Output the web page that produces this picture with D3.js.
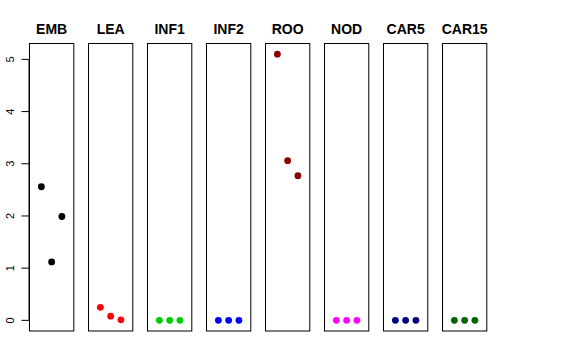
<!DOCTYPE html>
<html>
<head>
<meta charset="utf-8">
<script src="https://cdn.jsdelivr.net/npm/d3@7"></script>
<style>
  body { margin: 0; background: white; }
  text { font-family: "Liberation Sans", Arial, sans-serif; }
</style>
</head>
<body>
<script>
// panel names and colours
var tissues = ['EMB', 'LEA', 'INF1', 'INF2', 'ROO', 'NOD', 'CAR5', 'CAR15'];
var colors = ['#000000', '#ff0000', '#00cd00', '#0000ff', '#8b0000', '#ff00ff', '#000080', '#006400'];
// three replicate values per panel
var values = [
  [2.56, 1.12, 1.99],
  [0.25, 0.08, 0.01],
  [0, 0, 0],
  [0, 0, 0],
  [5.10, 3.06, 2.77],
  [0, 0, 0],
  [0, 0, 0],
  [0, 0, 0]
];
var yTicks = [0, 1, 2, 3, 4, 5];

var width = 576, height = 360;
var panelLeft = 29.5, panelStep = 59, panelW = 44.3;
var plotTop = 43.5, plotBottom = 331;

var svg = d3.select('body').append('svg')
    .attr('width', width)
    .attr('height', height);

// y: data range 0..max padded 4% like R
var yMax = d3.max(values, d => d3.max(d));
var pad = yMax * 0.04;
var y = d3.scaleLinear()
    .domain([-pad, yMax + pad])
    .range([plotBottom, plotTop]);

// x within panel: xlim 0..4 padded 4%
var x = d3.scaleLinear()
    .domain([-0.16, 4.16])
    .range([0, panelW]);

tissues.forEach(function(name, i) {
    var g = svg.append('g')
        .attr('transform', `translate(${panelLeft + i * panelStep}, 0)`);

    g.append('rect')
        .attr('x', 0)
        .attr('y', plotTop)
        .attr('width', panelW)
        .attr('height', plotBottom - plotTop)
        .attr('fill', 'none')
        .attr('stroke', '#000')
        .attr('stroke-width', 1);

    g.selectAll('circle')
        .data(values[i])
        .join('circle')
        .attr('cx', (d, j) => x(j + 1))
        .attr('cy', d => y(d))
        .attr('r', 3.4)
        .attr('fill', colors[i]);

    g.append('text')
        .attr('x', panelW / 2)
        .attr('y', 34)
        .attr('text-anchor', 'middle')
        .style('font-size', '14px')
        .style('font-weight', 'bold')
        .text(name);
});

// left axis, labels rotated like R's las=0
var axis = svg.append('g')
    .attr('transform', `translate(${panelLeft}, 0)`);

axis.append('line')
    .attr('x1', -0.5).attr('x2', -0.5)
    .attr('y1', y(0)).attr('y2', y(5))
    .attr('stroke', '#000');

axis.selectAll('.tick')
    .data(yTicks)
    .join('line')
    .attr('x1', -8).attr('x2', 0)
    .attr('y1', d => y(d)).attr('y2', d => y(d))
    .attr('stroke', '#000');

axis.selectAll('.lab')
    .data(yTicks)
    .join('text')
    .attr('transform', d => `translate(-16, ${y(d)}) rotate(-90)`)
    .attr('text-anchor', 'middle')
    .style('font-size', '11px')
    .text(d => d);
</script>
</body>
</html>
